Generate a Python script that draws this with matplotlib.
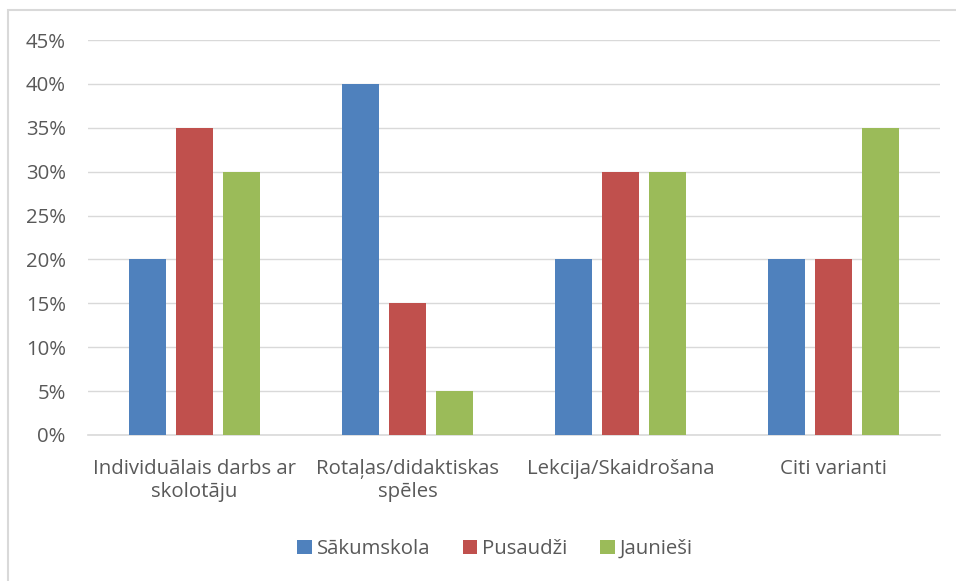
import matplotlib
matplotlib.use("Agg")
import matplotlib.pyplot as plt
import numpy as np
from matplotlib.patches import Rectangle
from matplotlib.ticker import FuncFormatter

categories = ["Individuālais darbs ar\nskolotāju", "Rotaļas/didaktiskas\nspēles", "Lekcija/Skaidrošana", "Citi varianti"]
series_names = ["Sākumskola", "Pusaudži", "Jaunieši"]
sakumskola = [0.20, 0.40, 0.20, 0.20]
pusaudzi = [0.35, 0.15, 0.30, 0.20]
jauniesi = [0.30, 0.05, 0.30, 0.35]
yticks = [0, 0.05, 0.10, 0.15, 0.20, 0.25, 0.30, 0.35, 0.40, 0.45]

colors = ["#4F81BD", "#C0504D", "#9BBB59"]
plt.rcParams['font.family'] = ['Open Sans', 'DejaVu Sans']

W, H = 956, 581
fig = plt.figure(figsize=(W/100, H/100), dpi=100)
ax = fig.add_axes([88/W, 1-435/H, (940-88)/W, (435-40)/H])

x = np.arange(len(categories))
width = 0.174
offset = 0.22
for i, (vals, name) in enumerate(zip([sakumskola, pusaudzi, jauniesi], series_names)):
    ax.bar(x + (i-1)*offset, vals, width, color=colors[i], label=name, zorder=3)

fs = 14.7
ax.set_xlim(-0.5, len(categories)-0.5)
ax.set_ylim(0, 0.45)
ax.set_yticks(yticks)
ax.yaxis.set_major_formatter(FuncFormatter(lambda v, p: f"{round(v*100)}%"))
ax.set_xticks(x)
ax.set_xticklabels(categories)
ax.grid(axis='y', color='#D9D9D9', linewidth=1, zorder=0)
for s in ['top', 'right', 'left']:
    ax.spines[s].set_visible(False)
ax.spines['bottom'].set_color('#D9D9D9')
ax.spines['bottom'].set_linewidth(1.2)
ax.tick_params(axis='both', length=0, labelsize=fs, labelcolor='#595959')
ax.tick_params(axis='y', pad=16)
ax.tick_params(axis='x', pad=17)
for lbl in ax.get_xticklabels():
    lbl.set_linespacing(1.2)

leg = fig.legend(loc='center', bbox_to_anchor=(495/W, 1-549/H), ncol=3, frameon=False,
                 fontsize=fs, handlelength=0.7, handleheight=0.7, handletextpad=0.25,
                 columnspacing=1.6, labelcolor='#595959')

fig.patches.append(Rectangle((8/W, -0.1), 1.2, 1.1 - 10/H, transform=fig.transFigure,
                             fill=False, edgecolor='#D9D9D9', linewidth=1.5))

fig.savefig("out.png", dpi=100)
